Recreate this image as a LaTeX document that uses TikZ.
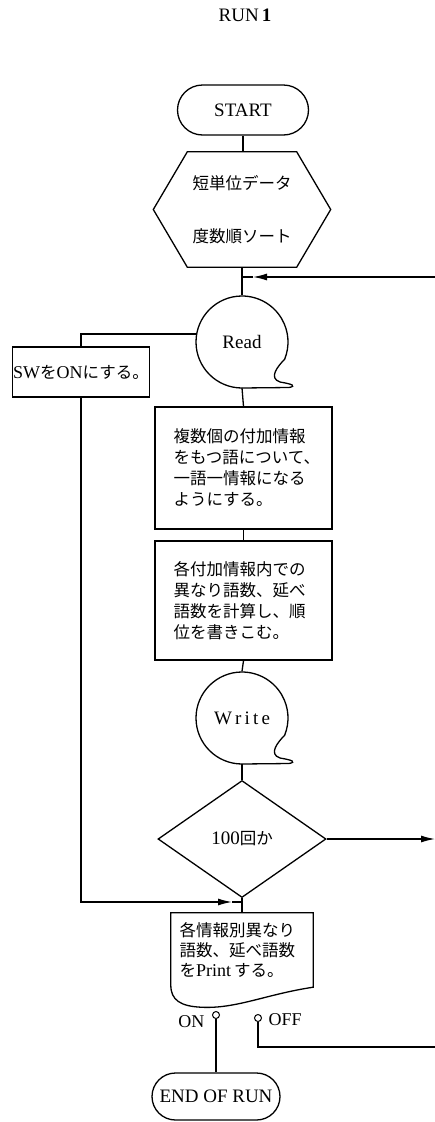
\documentclass[tikz,border=0pt]{standalone}
\usepackage{fontspec}
\setmainfont{Liberation Serif}
\newfontfamily\cjk{Noto Sans CJK JP}
\usetikzlibrary{shapes.geometric,shapes.misc,arrows.meta,calc}
\newcommand\jp[1]{{\cjk\fontsize{16.5}{21}\selectfont#1}}
\begin{document}
\begin{tikzpicture}[x=1pt,y=1pt,
  line/.style={line width=1.3pt},
  lat/.style={font=\fontsize{19}{21}\selectfont},
  term/.style={draw,line width=1.3pt,rounded rectangle,minimum width=131pt,minimum height=50pt,inner sep=0pt,lat},
  proc/.style={draw,line width=1.3pt,rectangle,minimum width=177pt,text width=140pt,inner xsep=18.5pt,align=left,font=\cjk\fontsize{16.5}{21}\selectfont},
  conn/.style={circle,minimum size=93pt,inner sep=0pt,lat},
  arr/.style={line width=1.3pt,-{Latex[length=14pt,width=7pt]}},
  pin/.style={circle,draw,line width=1pt,inner sep=0pt,minimum size=7pt},
  tear/.pic={\draw[line width=1.3pt] (0,-46) arc[start angle=270,end angle=-22,radius=46]
     .. controls (36,-24) and (26,-36) .. (38,-40)
     .. controls (50,-42) and (55,-44) .. (47,-45.5) -- cycle;}
]
\useasboundingbox (0,0) rectangle (435,-1122);

\node[lat] (title) at (245,-15) {RUN\,\textbf{1}};
\node[term] (start) at (243,-110) {START};

\node[minimum width=177pt,minimum height=115pt,inner sep=0pt,align=center,font=\cjk\fontsize{16.5}{21}\selectfont] (hex) at (242,-209.5) {短単位データ\\[32pt]度数順ソート};
\draw[line] ([xshift=34pt]hex.north west) -- ([xshift=-34pt]hex.north east) -- (hex.east)
  -- ([xshift=-34pt]hex.south east) -- ([xshift=34pt]hex.south west) -- (hex.west) -- cycle;

\node[conn] (read) at (242,-342) {Read};
\pic at (read.center) {tear};

\node[draw,line width=1.3pt,minimum width=137pt,minimum height=50pt,inner sep=1pt,font=\fontsize{18}{21}\selectfont] (sw) at (81,-372) {SW\jp{を}ON\jp{にする。}};

\node[proc,minimum height=122pt] (b1) at (243.5,-468) {複数個の付加情報\\をもつ語について、\\一語一情報になる\\ようにする。};
\node[proc,minimum height=119pt] (b2) at (243.5,-600.5) {各付加情報内での\\異なり語数、延べ\\語数を計算し、順\\位を書きこむ。};

\node[conn] (write) at (242,-718) {W\,r\,i\,t\,e};
\pic at (write.center) {tear};

\node[diamond,draw,line width=1.3pt,minimum width=168pt,minimum height=117pt,inner sep=0pt,lat] (dia) at (242,-839) {100\jp{回か}};

\node[minimum width=142pt,minimum height=74pt,inner sep=0pt,text width=125pt,align=left,font=\cjk\fontsize{16.5}{20}\selectfont] (doc) at (242,-950) {各情報別異なり\\語数、延べ語数\\を{\rmfamily\fontsize{18}{20}\selectfont Print\,}する。};
\draw[line] (doc.north west) -- (doc.north east) -- (doc.south east)
  .. controls ($(doc.south east)+(-47,-7)$) and ($(doc.south west)+(65,-22)$) .. ($(doc.south west)+(30,-20)$)
  .. controls ($(doc.south west)+(10,-19)$) and ($(doc.south west)+(0,-13)$) .. ($(doc.south west)+(0,2)$) -- cycle;

\node[pin] (on) at (216,-1015) {};
\node[pin] (off) at (258,-1018) {};
\node[anchor=east,font=\fontsize{18}{20}\selectfont] (onl) at (208,-1022) {ON};
\node[anchor=west,font=\fontsize{18}{20}\selectfont] (offl) at (265,-1019.5) {OFF};
\node[term,minimum width=128pt,minimum height=47pt] (end) at (216,-1096.5) {END OF RUN};

\coordinate (in1) at (435,-277);
\coordinate (t1) at (253,-277);
\coordinate (j1) at (242,-277);
\coordinate (out1) at (435,-839);
\coordinate (t2) at (232,-902);
\coordinate (j2) at (242,-902);
\coordinate (out2) at (435,-1047);

\draw[line] (start.south) -- (start.south |- hex.north);
\draw[line] (hex.south) -- (read.north);
\draw[arr] (in1) -- (t1);
\draw[line] (t1) -- (j1);
\draw[line] (read.170) -| (sw.north);
\draw[line] ($(read.center)+(0,-46)$) -- (b1.north);
\draw[line] (b1.south) -- (b2.north);
\draw[line] (b2.south) -- (write.north);
\draw[line] ($(write.center)+(0,-46)$) -- (dia.north);
\draw[arr] (dia.east) -- (out1);
\draw[line] (dia.south) -- (doc.north);
\draw[arr] (sw.south) |- (t2);
\draw[line] (t2) -- (j2);
\draw[line] (on.south) -- (end.north);
\draw[line] (off.south) |- (out2);
\end{tikzpicture}
\end{document}
